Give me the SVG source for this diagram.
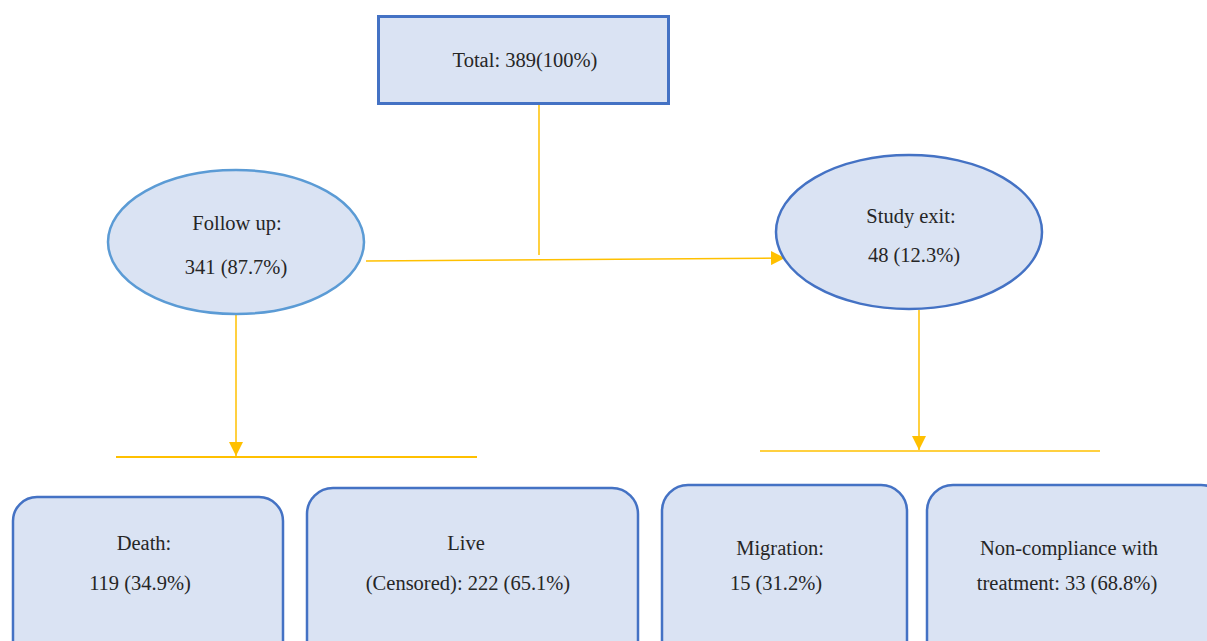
<svg xmlns="http://www.w3.org/2000/svg" width="1207" height="641" viewBox="0 0 1207 641">
<style>
.box{fill:#DAE3F3;stroke:#4472C4;stroke-width:2.5}
.ell1{fill:#DAE3F3;stroke:#5B9BD5;stroke-width:2.5}
.ell2{fill:#DAE3F3;stroke:#4472C4;stroke-width:2.5}
.ln{stroke:#FFC000;stroke-width:1.5;fill:none}
.ln2{stroke:#FFC000;stroke-width:2;fill:none}
text{font-family:"Liberation Serif","DejaVu Serif",serif;font-size:20.5px;fill:#262626;text-anchor:middle}
</style>
<defs>
<marker id="arr" markerWidth="14" markerHeight="14" refX="14" refY="7" orient="auto" markerUnits="userSpaceOnUse">
<path d="M0,0 L14,7 L0,14 Z" fill="#FFC000"/>
</marker>
</defs>
<rect width="1207" height="641" fill="#ffffff"/>
<g id="connectors">
<line class="ln" x1="539" y1="104" x2="539" y2="255"/>
<line class="ln" x1="366" y1="261" x2="785" y2="258" marker-end="url(#arr)"/>
<line class="ln" x1="236" y1="315" x2="236" y2="456" marker-end="url(#arr)"/>
<line class="ln2" x1="116" y1="457" x2="477" y2="457"/>
<line class="ln" x1="919" y1="310" x2="919" y2="450" marker-end="url(#arr)"/>
<line class="ln" x1="760" y1="451" x2="1100" y2="451"/>
</g>
<g id="total">
<rect class="box" x="378.5" y="16.5" width="290" height="87" style="stroke-width:3"/>
<text x="525" y="67">Total: 389(100%)</text>
</g>
<g id="followup">
<ellipse class="ell1" cx="236" cy="242" rx="128" ry="72"/>
<text x="237" y="230">Follow up:</text>
<text x="236" y="274">341 (87.7%)</text>
</g>
<g id="studyexit">
<ellipse class="ell2" cx="909" cy="232" rx="133" ry="77"/>
<text x="911" y="223">Study exit:</text>
<text x="914" y="262">48 (12.3%)</text>
</g>
<g id="death">
<rect class="box" x="13" y="497" width="270" height="170" rx="24"/>
<text x="144" y="550">Death:</text>
<text x="140" y="590">119 (34.9%)</text>
</g>
<g id="live">
<rect class="box" x="307" y="488" width="331" height="180" rx="26"/>
<text x="466" y="550">Live</text>
<text x="468" y="590">(Censored): 222 (65.1%)</text>
</g>
<g id="migration">
<rect class="box" x="662" y="485" width="245" height="182" rx="26"/>
<text x="780" y="555">Migration:</text>
<text x="776" y="590">15 (31.2%)</text>
</g>
<g id="noncompliance">
<rect class="box" x="927" y="485" width="300" height="182" rx="26"/>
<text x="1069" y="555">Non-compliance with</text>
<text x="1067" y="590">treatment: 33 (68.8%)</text>
</g>
</svg>
